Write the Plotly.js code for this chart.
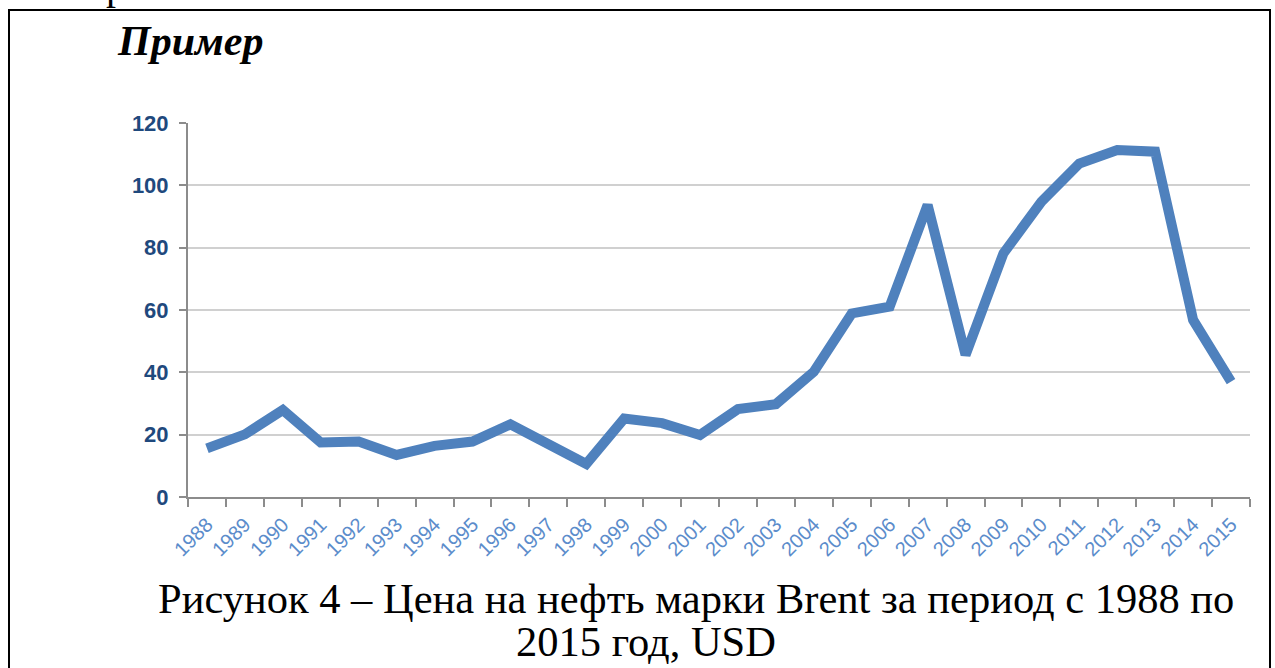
<!DOCTYPE html>
<html>
<head>
<meta charset="utf-8">
<script src="https://cdn.plot.ly/plotly-3.0.1.min.js"></script>
<style>
html,body{margin:0;padding:0;overflow:hidden;background:#fff;}
#chart{position:absolute;left:0;top:0;width:1275px;height:668px;}
#frame{position:absolute;left:8px;top:9px;width:1259px;height:720px;border:2px solid #000;pointer-events:none;}
</style>
</head>
<body>
<div id="chart"></div>
<div id="frame"></div>
<script>
const years = ["1988","1989","1990","1991","1992","1993","1994","1995","1996","1997","1998","1999","2000","2001","2002","2003","2004","2005","2006","2007","2008","2009","2010","2011","2012","2013","2014","2015"];
const brentPrice = [15.6, 20.1, 27.9, 17.5, 17.8, 13.5, 16.4, 17.8, 23.3, 17.0, 10.6, 25.2, 23.7, 19.9, 28.2, 29.8, 40.2, 58.9, 61.1, 93.7, 45.6, 78.2, 94.7, 107.0, 111.3, 110.8, 56.8, 37.0];
const yTicks = [0, 20, 40, 60, 80, 100, 120];

const trace = {
  x: years,
  y: brentPrice,
  type: 'scatter',
  mode: 'lines',
  line: {color: '#4F81BD', width: 10, shape: 'linear'},
  hoverinfo: 'skip'
};

const serif = 'Liberation Serif, Times New Roman, serif';
const px2x = p => (p - 188) / 1062;
const py2y = p => (497 - p) / 374;

const layout = {
  width: 1275,
  height: 668,
  margin: {l: 188, r: 25, t: 123, b: 171},
  paper_bgcolor: 'rgba(0,0,0,0)',
  plot_bgcolor: '#fff',
  showlegend: false,
  xaxis: {
    type: 'category',
    range: [-0.5, years.length - 0.5],
    showgrid: false,
    zeroline: false,
    showline: true,
    linecolor: '#8c8c8c',
    linewidth: 2,
    ticks: 'outside',
    tickson: 'boundaries',
    ticklen: 8,
    tickwidth: 2,
    tickcolor: '#8c8c8c',
    tickangle: -45,
    ticklabelstandoff: 6,
    tickfont: {family: 'Liberation Sans, Arial, sans-serif', size: 20, color: '#5B8CCB'}
  },
  yaxis: {
    range: [0, 120],
    tickvals: yTicks,
    ticktext: yTicks.map(String),
    showgrid: true,
    gridcolor: '#d0d0d0',
    gridwidth: 2,
    zeroline: false,
    showline: true,
    linecolor: '#8c8c8c',
    linewidth: 2,
    ticks: 'outside',
    ticklen: 7,
    tickwidth: 2,
    tickcolor: '#8c8c8c',
    ticklabelstandoff: 6,
    tickfont: {family: 'Liberation Sans, Arial, sans-serif', size: 22, color: '#1F497D', weight: 'bold'}
  },
  annotations: [
    {text: 'р', xref: 'paper', yref: 'paper', x: px2x(104), y: py2y(10), xanchor: 'left', yanchor: 'bottom', showarrow: false,
     font: {family: serif, size: 40, color: '#000'}},
    {text: '<b><i>Пример</i></b>', xref: 'paper', yref: 'paper', x: px2x(115), y: py2y(66), xanchor: 'left', yanchor: 'bottom', showarrow: false,
     font: {family: serif, size: 42, color: '#000'}},
    {text: 'Рисунок 4 – Цена на нефть марки Brent за период с 1988 по', xref: 'paper', yref: 'paper', x: px2x(696), y: py2y(598), xanchor: 'center', yanchor: 'middle', showarrow: false,
     font: {family: serif, size: 42.5, color: '#000'}},
    {text: '2015 год, USD', xref: 'paper', yref: 'paper', x: px2x(646), y: py2y(641), xanchor: 'center', yanchor: 'middle', showarrow: false,
     font: {family: serif, size: 42.5, color: '#000'}}
  ]
};

Plotly.newPlot('chart', [trace], layout, {staticPlot: true, displayModeBar: false});
</script>
</body>
</html>
